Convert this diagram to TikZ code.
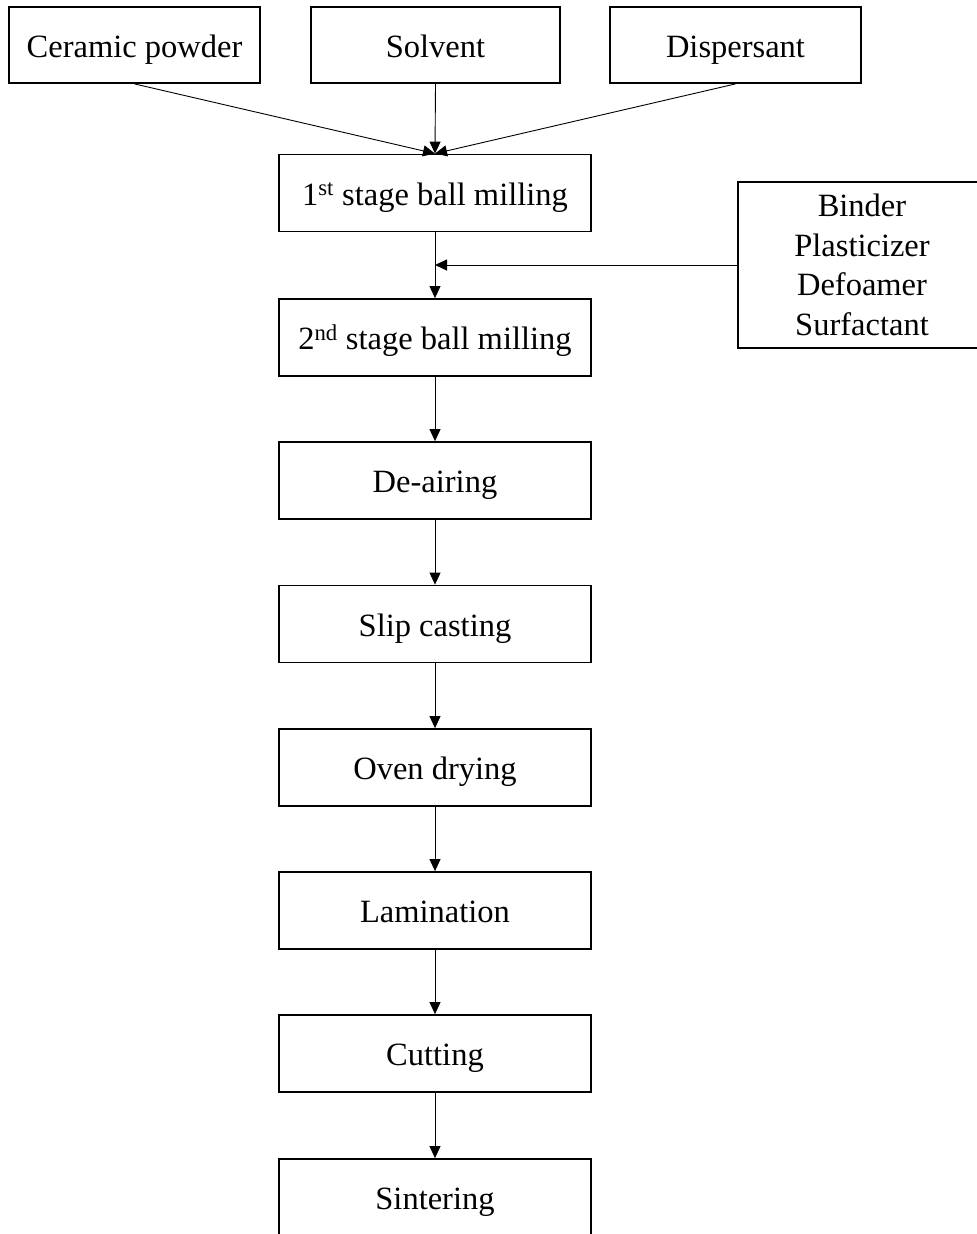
\documentclass[tikz,border=0pt]{standalone}
\usepackage{fontspec}
\setmainfont{Liberation Serif}
\usetikzlibrary{arrows.meta}
\begin{document}
\begin{tikzpicture}[x=1pt,y=-1pt,
  box/.style={draw=black,line width=1.8pt,minimum width=312pt,minimum height=77pt,inner sep=0pt,
    font=\fontsize{32.5}{39.5}\selectfont,text height=24pt,text depth=0pt},
  inbox/.style={box,minimum width=251pt,minimum height=76pt},
  arr/.style={draw=black,line width=0.9pt,-{Triangle[length=12pt,width=11pt]}}]
\useasboundingbox (0,0) rectangle (977,1234);
\clip (0,0) rectangle (977,1234);
\node[inbox] (cp) at (134.5,45) {Ceramic powder};
\node[inbox,minimum width=249pt] (sv) at (435.5,45) {Solvent};
\node[inbox] (dp) at (735.5,45) {Dispersant};
\node[box] (m1) at (435,193) {1\textsuperscript{st} stage ball milling};
\node[box] (m2) at (435,337.5) {2\textsuperscript{nd} stage ball milling};
\node[box] (da) at (435,480.5) {De-airing};
\node[box] (sc) at (435,624) {Slip casting};
\node[box] (od) at (435,767.5) {Oven drying};
\node[box] (la) at (435,910.5) {Lamination};
\node[box] (cu) at (435,1053.5) {Cutting};
\node[box] (si) at (435,1197.5) {Sintering};
\node[draw=black,line width=1.8pt,minimum width=248pt,minimum height=166pt,inner sep=0pt,
  font=\fontsize{32.5}{39.5}\selectfont,align=center] (bd) at (862,265)
  {Binder\\Plasticizer\\Defoamer\\Surfactant};
\draw[arr] (cp.south) -- (m1.north);
\draw[arr] (sv.south) -- (m1.north);
\draw[arr] (dp.south) -- (m1.north);
\draw[arr] (m1.south) -- (m2.north);
\draw[arr] (bd.west) -- (bd.west -| m1.south);
\draw[arr] (m2.south) -- (da.north);
\draw[arr] (da.south) -- (sc.north);
\draw[arr] (sc.south) -- (od.north);
\draw[arr] (od.south) -- (la.north);
\draw[arr] (la.south) -- (cu.north);
\draw[arr] (cu.south) -- (si.north);
\end{tikzpicture}
\end{document}
